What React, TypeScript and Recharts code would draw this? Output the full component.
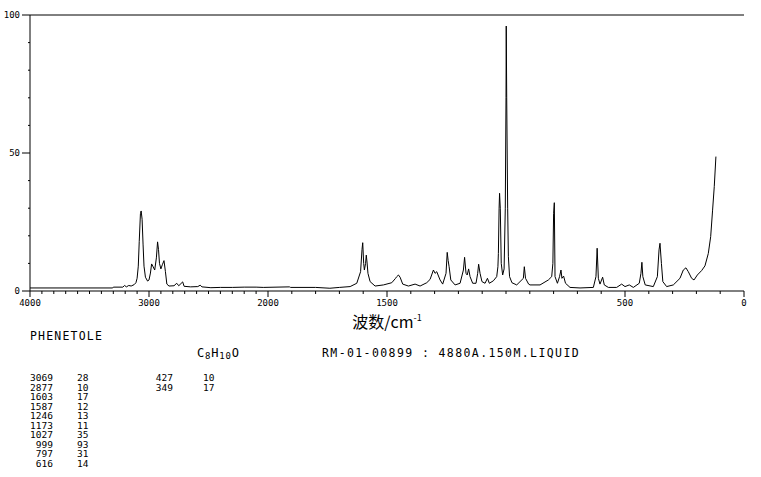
import React from "react";
import { LineChart, Line, XAxis, YAxis, ReferenceLine } from "recharts";

// Spectrum (wavenumber cm-1, Raman intensity)
const waves = [
  4000, 3305, 3300, 3220, 3205, 3190, 3170, 3150, 3125, 3110, 3100, 3090, 3082, 3072, 3066, 3058, 3050, 3042, 3030, 3012,
  3000, 2988, 2978, 2968, 2952, 2938, 2928, 2920, 2912, 2900, 2888, 2874, 2862, 2850, 2832, 2790, 2767, 2750, 2717, 2705,
  2650, 2590, 2570, 2555, 2480, 2400, 2300, 2200, 2100, 2040, 1910, 1905, 1800, 1740, 1700, 1655, 1627, 1611, 1605, 1602,
  1598, 1595, 1590, 1587, 1584, 1580, 1571, 1550, 1515, 1480, 1465, 1459, 1452, 1445, 1434, 1410, 1382, 1361, 1333, 1319,
  1305, 1298, 1291, 1277, 1266, 1252, 1247, 1243, 1239, 1232, 1214, 1193, 1179, 1174, 1168, 1163, 1157, 1151, 1140, 1126,
  1119, 1115, 1109, 1101, 1088, 1078, 1070, 1053, 1039, 1034, 1032, 1029, 1027, 1024, 1020, 1014, 1008, 1003, 1000, 999,
  997, 993, 990, 985, 975, 955, 927, 923, 918, 905, 899, 857, 822, 808, 803, 800, 797, 794, 784, 775,
  769, 765, 758, 750, 731, 689, 633, 622, 617, 612, 605, 594, 587, 570, 535, 514, 500, 482, 465, 440,
  433, 429, 425, 415, 381, 364, 357, 353, 347, 341, 325, 297, 269, 255, 244, 234, 220, 210, 196, 178,
  164, 150, 140, 132, 125, 118,
];
const intensities = [
  1.1, 1.1, 1.4, 1.4, 2.0, 1.5, 2.0, 1.8, 2.3, 3.0, 4.6, 9, 18, 28, 29, 26, 17, 9, 5, 3.6,
  4, 6.5, 9.8, 9, 7.6, 12, 17.8, 15, 10, 8, 9.5, 11, 7, 2.5, 1.8, 1.9, 2.8, 1.9, 3.3, 1.7,
  1.5, 1.6, 2.1, 1.5, 1.2, 1.3, 1.3, 1.4, 1.4, 1.3, 1.5, 1.3, 1.3, 1.0, 1.3, 1.6, 2.8, 7, 15, 17.5,
  10, 7.6, 10, 13, 10.5, 6.4, 3.4, 1.8, 2.2, 3, 4.5, 5.2, 5.8, 5, 2.5, 1.8, 2.5, 1.8, 3, 4.2,
  7.6, 6.4, 7, 4, 2.5, 6.4, 14, 11, 8.8, 4, 2.2, 2.8, 7.6, 12.2, 6.4, 5.8, 8, 5.2, 2.8, 2.8,
  6.4, 9.7, 6.4, 3.4, 2.8, 4.6, 2.8, 3.7, 5.2, 8.8, 13.6, 30, 35.4, 30, 10, 5.8, 8, 30, 70, 96,
  70, 30, 12.4, 5.2, 3, 2.2, 4.6, 8.8, 4.6, 2.5, 2.2, 2.2, 4, 5.2, 10, 28, 32, 5.2, 2.8, 5.2,
  7.6, 4.6, 5.4, 2.8, 1.3, 1.1, 1.3, 5.2, 15.5, 4.6, 2.5, 5, 2.2, 1.3, 1.3, 2.5, 1.6, 2.2, 1.3, 2.8,
  6.4, 10.4, 5.2, 2.2, 1.6, 5.2, 14.9, 17.3, 10, 3.4, 1.6, 2.2, 4.6, 7.6, 8.4, 7, 4.6, 4, 5.8, 7.4,
  9.1, 13.6, 19.7, 29.3, 37.8, 48.7,
];

// Axis ticks
const xMajorLabels = [4000, 3000, 2000, 1500, 500, 0];
const xTickWaves: number[] = [];
for (let w = 4000; w >= 0; w -= 100) xTickWaves.push(w);
const yTicks = [0, 10, 20, 30, 40, 50, 60, 70, 80, 90, 100];
const yMajorLabels = [0, 50, 100];

// Peak table
const peakWaves = [3069, 2877, 1603, 1587, 1246, 1173, 1027, 999, 797, 616, 427, 349];
const peakInts = [28, 10, 17, 12, 13, 11, 35, 93, 31, 14, 10, 17];

// Axis is compressed 2:1 above 2000 cm-1
const toT = (w: number) => (w <= 2000 ? w : 2000 + (w - 2000) / 2);
const fromT = (t: number) => (t <= 2000 ? t : 2000 + (t - 2000) * 2);

const data = waves.map((w, i) => ({ t: toT(w), v: intensities[i] }));

const MONO = "DejaVu Sans Mono";

const XTick = (props: any) => {
  const { x, y, payload } = props;
  const w = Math.round(fromT(payload.value));
  const major = xMajorLabels.includes(w);
  return (
    <g>
      <line x1={x} x2={x} y1={y} y2={y + (major ? 6 : 3)} stroke="#000" strokeWidth={1} />
      {major && (
        <text x={x} y={y + 15} textAnchor="middle" fontSize={9} fontFamily={MONO} fill="#000">
          {w}
        </text>
      )}
    </g>
  );
};

const YTick = (props: any) => {
  const { x, y, payload } = props;
  const v = payload.value;
  const major = yMajorLabels.includes(v);
  return (
    <g>
      <line x1={x - (major ? 8 : 2)} x2={x} y1={y} y2={y} stroke="#000" strokeWidth={1} />
      {major && (
        <text x={x - 10} y={y + 3} textAnchor="end" fontSize={9} fontFamily={MONO} fill="#000">
          {v}
        </text>
      )}
    </g>
  );
};

export default function App() {
  const rowH = 9.5;
  return (
    <div style={{ position: "absolute", left: 0, top: 0, width: 761, height: 477, background: "#fff" }}>
      <LineChart width={761} height={477} data={data} margin={{ top: 15, right: 17, bottom: 0, left: 0 }}>
        <XAxis
          dataKey="t"
          type="number"
          domain={[0, 3000]}
          reversed
          allowDataOverflow
          ticks={xTickWaves.map(toT)}
          interval={0}
          tick={<XTick />}
          tickLine={false}
          tickSize={0}
          tickMargin={0}
          axisLine={{ stroke: "#000", strokeWidth: 1 }}
          height={186}
        />
        <YAxis
          type="number"
          domain={[0, 100]}
          allowDataOverflow
          ticks={yTicks}
          interval={0}
          tick={<YTick />}
          tickLine={false}
          tickSize={0}
          tickMargin={0}
          axisLine={{ stroke: "#000", strokeWidth: 1 }}
          width={30}
        />
        <ReferenceLine y={100} stroke="#000" strokeWidth={1} />
        <Line
          type="linear"
          dataKey="v"
          stroke="#000"
          strokeWidth={1}
          dot={false}
          isAnimationActive={false}
        />
      </LineChart>
      <svg
        width={761}
        height={477}
        style={{ position: "absolute", left: 0, top: 0, pointerEvents: "none" }}
      >
        <text x={387} y={328} textAnchor="middle" fontSize={16} fontFamily="Noto Sans CJK SC" fill="#000">
          波数/cm
          <tspan dy={-7} fontSize={9}>-1</tspan>
        </text>
        <text x={30} y={340} fontSize={11.5} letterSpacing={1.2} fontFamily={MONO} fill="#000">
          PHENETOLE
        </text>
        <text x={197} y={357} fontSize={12} letterSpacing={0.8} fontFamily={MONO} fill="#000">
          C<tspan dy={2} fontSize={9}>8</tspan>
          <tspan dy={-2}>H</tspan>
          <tspan dy={2} fontSize={9}>10</tspan>
          <tspan dy={-2}>O</tspan>
        </text>
        <text x={322} y={357} fontSize={11.5} letterSpacing={1.4} fontFamily={MONO} fill="#000">
          RM-01-00899 : 4880A.150M.LIQUID
        </text>
        {peakWaves.map((w, i) => {
          const col = i < 10 ? 0 : 1;
          const row = i < 10 ? i : i - 10;
          const y = 381 + row * rowH;
          return (
            <g key={i}>
              <text x={col === 0 ? 53 : 173} y={y} textAnchor="end" fontSize={9.5} fontFamily={MONO} fill="#000">
                {w}
              </text>
              <text x={col === 0 ? 77 : 203} y={y} fontSize={9.5} fontFamily={MONO} fill="#000">
                {peakInts[i]}
              </text>
            </g>
          );
        })}
      </svg>
    </div>
  );
}
